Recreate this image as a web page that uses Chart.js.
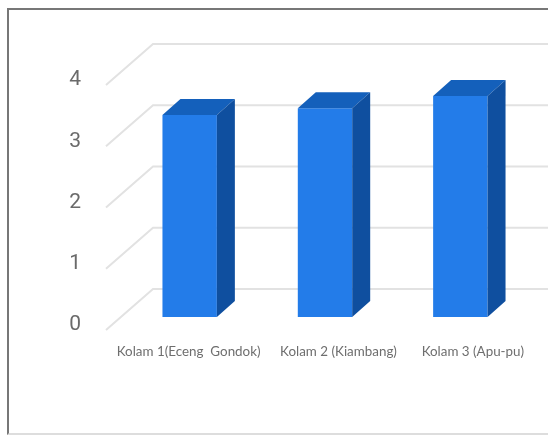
<!DOCTYPE html>
<html>
<head>
<meta charset="utf-8">
<style>
    html, body { margin: 0; padding: 0; background: #fff; overflow: hidden; }
    #wrap { position: relative; width: 548px; height: 435px; filter: blur(0.6px); }
    #frame { position: absolute; left: 7px; top: 8px; right: 0; height: 423px;
        border-left: 2px solid #777; border-top: 2px solid #777; border-bottom: 2px solid #ddd; }
    canvas { position: absolute; left: 0; top: 0; }
</style>
<script src="https://cdn.jsdelivr.net/npm/chart.js@4"></script>
</head>
<body>
<div id="wrap">
    <div id="frame"></div>
    <canvas id="chart" width="548" height="435"></canvas>
</div>
<script>
const categories = ['Kolam 1(Eceng  Gondok)', 'Kolam 2 (Kiambang)', 'Kolam 3 (Apu-pu)'];
const values = [3.3, 3.41, 3.61];
const yTicks = [0, 1, 2, 3, 4];

// Fake 3D settings, the picture is an Excel style 3D column
const BAR_DEPTH = { x: 18, y: -16 };
const WALL = { frontX: -16, frontY: 13, backX: 31, backY: -28 };
const LABEL_SHIFT = [-1, 13.5, 12.5];

const depthPlugin = {
    id: 'depth',
    beforeDatasetsDraw(chart) {
        // Gridlines: diagonal on the side wall, then flat along the back wall
        const { ctx, chartArea, scales } = chart;
        ctx.save();
        ctx.strokeStyle = '#e2e2e2';
        ctx.lineWidth = 2;
        yTicks.forEach(t => {
            const y = scales.y.getPixelForValue(t);
            ctx.beginPath();
            ctx.moveTo(chartArea.left + WALL.frontX, y + WALL.frontY);
            ctx.lineTo(chartArea.left + WALL.backX, y + WALL.backY);
            ctx.lineTo(chart.width, y + WALL.backY);
            ctx.stroke();
        });
        ctx.restore();
    },
    afterDatasetsDraw(chart) {
        const { ctx, scales } = chart;
        ctx.save();
        chart.getDatasetMeta(0).data.forEach(bar => {
            const left = bar.x - bar.width / 2;
            const right = bar.x + bar.width / 2;
            // Top face
            ctx.fillStyle = '#1460bb';
            ctx.beginPath();
            ctx.moveTo(left, bar.y);
            ctx.lineTo(left + BAR_DEPTH.x, bar.y + BAR_DEPTH.y);
            ctx.lineTo(right + BAR_DEPTH.x, bar.y + BAR_DEPTH.y);
            ctx.lineTo(right, bar.y);
            ctx.closePath();
            ctx.fill();
            // Side face
            ctx.fillStyle = '#0f4f9f';
            ctx.beginPath();
            ctx.moveTo(right, bar.y);
            ctx.lineTo(right + BAR_DEPTH.x, bar.y + BAR_DEPTH.y);
            ctx.lineTo(right + BAR_DEPTH.x, bar.base + BAR_DEPTH.y);
            ctx.lineTo(right, bar.base);
            ctx.closePath();
            ctx.fill();
        });
        // Category labels sit unevenly under the bars in the original
        ctx.fillStyle = '#6e6e6e';
        ctx.font = '13.4px Lato, sans-serif';
        ctx.textAlign = 'center';
        ctx.textBaseline = 'middle';
        scales.x.ticks.forEach((tick, i) => {
            ctx.fillText(tick.label, scales.x.getPixelForTick(i) + LABEL_SHIFT[i], scales.y.getPixelForValue(0) + 35);
        });
        ctx.restore();
    }
};

new Chart(document.getElementById('chart').getContext('2d'), {
    type: 'bar',
    data: {
        labels: categories,
        datasets: [{ data: values, backgroundColor: '#237ce9', barPercentage: 0.402, categoryPercentage: 1 }]
    },
    options: {
        responsive: false,
        animation: false,
        layout: { padding: { top: 72, right: 20, bottom: 118, left: 0 } },
        plugins: { legend: { display: false }, tooltip: { enabled: false }, title: { display: false } },
        scales: {
            x: {
                afterFit: s => { s.height = 0; },
                grid: { display: false },
                border: { display: false },
                ticks: { display: false }
            },
            y: {
                min: 0,
                max: 4,
                afterFit: s => { s.width = 122; },
                afterBuildTicks: s => { s.ticks = yTicks.map(v => ({ value: v })); },
                grid: { display: false, drawTicks: false },
                border: { display: false },
                ticks: {
                    color: '#6a6a6a',
                    font: { family: 'Roboto, sans-serif', size: 21 },
                    padding: 41,
                    labelOffset: 8
                }
            }
        }
    },
    plugins: [depthPlugin]
});
</script>
</body>
</html>
